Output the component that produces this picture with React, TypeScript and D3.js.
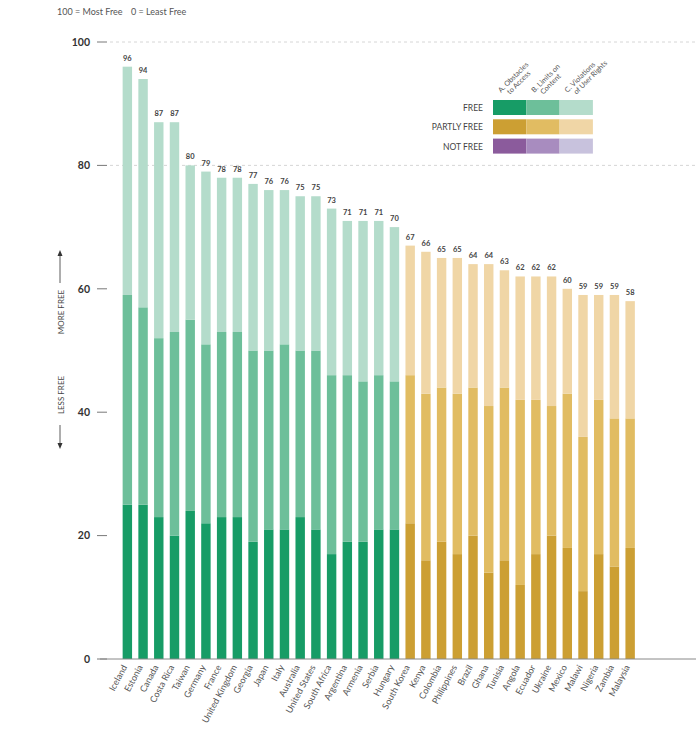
import * as d3 from "d3";

const countries = [
  "Iceland", "Estonia", "Canada", "Costa Rica", "Taiwan", "Germany", "France", "United Kingdom",
  "Georgia", "Japan", "Italy", "Australia", "United States", "South Africa", "Argentina", "Armenia",
  "Serbia", "Hungary", "South Korea", "Kenya", "Colombia", "Philippines", "Brazil", "Ghana",
  "Tunisia", "Angola", "Ecuador", "Ukraine", "Mexico", "Malawi", "Nigeria", "Zambia", "Malaysia",
];
const status = [
  "free", "free", "free", "free", "free", "free", "free", "free", "free", "free", "free", "free",
  "free", "free", "free", "free", "free", "free", "partly", "partly", "partly", "partly", "partly",
  "partly", "partly", "partly", "partly", "partly", "partly", "partly", "partly", "partly", "partly",
];
// A. Obstacles to Access
const obstacles = [25, 25, 23, 20, 24, 22, 23, 23, 19, 21, 21, 23, 21, 17, 19, 19, 21, 21, 22, 16, 19, 17, 20, 14, 16, 12, 17, 20, 18, 11, 17, 15, 18];
// B. Limits on Content
const limits = [34, 32, 29, 33, 31, 29, 30, 30, 31, 29, 30, 27, 29, 29, 27, 26, 25, 24, 24, 27, 25, 26, 24, 27, 28, 30, 25, 21, 25, 25, 25, 24, 21];
// total score
const totals = [96, 94, 87, 87, 80, 79, 78, 78, 77, 76, 76, 75, 75, 73, 71, 71, 71, 70, 67, 66, 65, 65, 64, 64, 63, 62, 62, 62, 60, 59, 59, 59, 58];
const yTicks = [0, 20, 40, 60, 80, 100];
const gridTicks = [80, 100];
const legendRows = ["FREE", "PARTLY FREE", "NOT FREE"];
const legendKeys = ["free", "partly", "not"];
const legendCols = [["A. Obstacles", "to Access"], ["B. Limits on", "Content"], ["C. Violations", "of User Rights"]];

const palette: Record<string, string[]> = {
  free: ["#179c66", "#6dbf9a", "#b4dccb"],
  partly: ["#cc9f33", "#e1bc62", "#f0d6a6"],
  not: ["#8b5b9c", "#a88cbf", "#c8c2dd"],
};

const font = "Lato, 'Open Sans', sans-serif";

export default function App() {
  const width = 696;
  const height = 755;
  const y = d3.scaleLinear().domain([0, 100]).range([659, 42]);
  const x = d3.scaleBand().domain(countries).range([119.5, 638]).paddingInner(0.4).paddingOuter(0.2);
  const bw = x.bandwidth();

  const rows = countries.map((c, i) => {
    const a = obstacles[i];
    const b = limits[i];
    const t = totals[i];
    return { c, i, segs: [[0, a], [a, a + b], [a + b, t]] };
  });

  return (
    <div style={{ position: "absolute", left: 0, top: 0 }}>
      <svg width={width} height={height} style={{ display: "block", background: "#fff" }} fontFamily={font}>
        <text x={57} y={15} fontSize={9} fill="#555">100 = Most Free</text>
        <text x={131} y={15} fontSize={9} fill="#555">0 = Least Free</text>

        {/* grid */}
        {gridTicks.map(t => (
          <line key={"g" + t} x1={110} x2={width} y1={y(t)} y2={y(t)} stroke="#ccc" strokeWidth={0.8} strokeDasharray="3,3" />
        ))}
        {yTicks.map(t => (
          <g key={"t" + t}>
            <text x={90} y={y(t) + 3.8} textAnchor="end" fontSize={10.5} fontWeight={700} fill="#333">{t}</text>
            <line x1={97} x2={107} y1={y(t)} y2={y(t)} stroke="#555" strokeWidth={0.8} />
          </g>
        ))}

        {/* more / less free */}
        <line x1={60} x2={60} y1={253} y2={283} stroke="#333" strokeWidth={0.8} />
        <path d="M57.5,256 L60,250 L62.5,256 Z" fill="#333" />
        <text transform={`translate(64,312) rotate(-90)`} textAnchor="middle" fontSize={8} fill="#444">MORE FREE</text>
        <text transform={`translate(64,395) rotate(-90)`} textAnchor="middle" fontSize={8} fill="#444">LESS FREE</text>
        <line x1={60} x2={60} y1={425} y2={446} stroke="#333" strokeWidth={0.8} />
        <path d="M57.5,443 L60,449 L62.5,443 Z" fill="#333" />

        {/* bars */}
        {rows.map(r => (
          <g key={r.c}>
            {r.segs.map((s, k) => (
              <rect key={k} x={x(r.c)} y={y(s[1])} width={bw} height={y(s[0]) - y(s[1])} fill={palette[status[r.i]][k]} />
            ))}
            <text x={(x(r.c) as number) + bw / 2} y={y(totals[r.i]) - 6} textAnchor="middle" fontSize={7.5} fontWeight={700} fill="#444">
              {totals[r.i]}
            </text>
            <text
              transform={`translate(${(x(r.c) as number) + bw / 2},${667}) rotate(-62)`}
              textAnchor="end"
              fontSize={9}
              fill="#555"
            >
              {r.c}
            </text>
          </g>
        ))}
        <line x1={100} x2={width} y1={y(0)} y2={y(0)} stroke="#888" strokeWidth={1} />

        {/* legend */}
        {legendRows.map((lab, ri) => (
          <g key={lab}>
            <text x={483} y={111 + ri * 19.3} textAnchor="end" fontSize={8.5} fill="#444">{lab}</text>
            {palette[legendKeys[ri]].map((col, ci) => (
              <rect key={ci} x={493 + ci * 33.3} y={100 + ri * 19.3} width={33.3} height={15} fill={col} />
            ))}
          </g>
        ))}
        {legendCols.map((lines, ci) => (
          <text key={ci} transform={`translate(${501 + ci * 33.3},${93}) rotate(-45)`} fontSize={7.2} fill="#555">
            <tspan x={0} dy={0}>{lines[0]}</tspan>
            <tspan x={5} dy={7.5}>{lines[1]}</tspan>
          </text>
        ))}
      </svg>
    </div>
  );
}
